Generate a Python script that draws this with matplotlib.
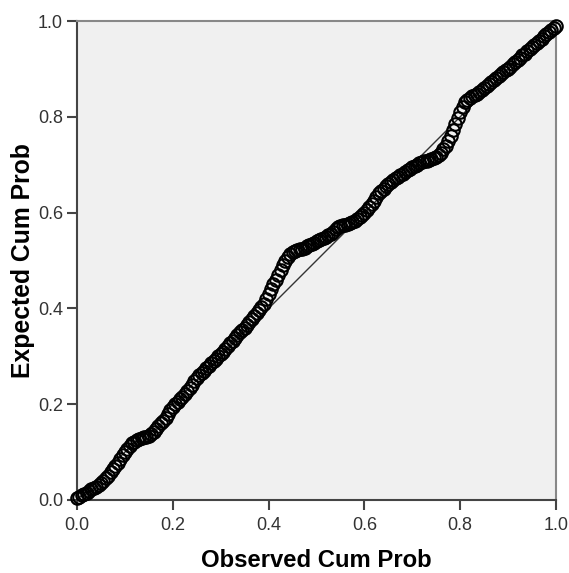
import matplotlib
matplotlib.use("Agg")
import matplotlib.pyplot as plt

# observed vs expected cumulative probability (P-P plot)
observed = [0.000, 0.005, 0.010, 0.015, 0.020, 0.025, 0.030, 0.035, 0.040, 0.045,
            0.050, 0.055, 0.060, 0.065, 0.070, 0.075, 0.080, 0.085, 0.090, 0.095,
            0.100, 0.105, 0.110, 0.115, 0.120, 0.125, 0.130, 0.135, 0.140, 0.145,
            0.150, 0.155, 0.160, 0.165, 0.170, 0.175, 0.180, 0.185, 0.190, 0.195,
            0.200, 0.205, 0.210, 0.215, 0.220, 0.225, 0.230, 0.235, 0.240, 0.245,
            0.250, 0.255, 0.260, 0.265, 0.270, 0.275, 0.280, 0.285, 0.290, 0.295,
            0.300, 0.305, 0.310, 0.315, 0.320, 0.325, 0.330, 0.335, 0.340, 0.345,
            0.350, 0.355, 0.360, 0.365, 0.370, 0.375, 0.380, 0.385, 0.390, 0.395,
            0.400, 0.405, 0.410, 0.415, 0.420, 0.425, 0.430, 0.435, 0.440, 0.445,
            0.450, 0.455, 0.460, 0.465, 0.470, 0.475, 0.480, 0.485, 0.490, 0.495,
            0.500, 0.505, 0.510, 0.515, 0.520, 0.525, 0.530, 0.535, 0.540, 0.545,
            0.550, 0.555, 0.560, 0.565, 0.570, 0.575, 0.580, 0.585, 0.590, 0.595,
            0.600, 0.605, 0.610, 0.615, 0.620, 0.625, 0.630, 0.635, 0.640, 0.645,
            0.650, 0.655, 0.660, 0.665, 0.670, 0.675, 0.680, 0.685, 0.690, 0.695,
            0.700, 0.705, 0.710, 0.715, 0.720, 0.725, 0.730, 0.735, 0.740, 0.745,
            0.750, 0.755, 0.760, 0.765, 0.770, 0.775, 0.780, 0.785, 0.790, 0.795,
            0.800, 0.805, 0.810, 0.815, 0.820, 0.825, 0.830, 0.835, 0.840, 0.845,
            0.850, 0.855, 0.860, 0.865, 0.870, 0.875, 0.880, 0.885, 0.890, 0.895,
            0.900, 0.905, 0.910, 0.915, 0.920, 0.925, 0.930, 0.935, 0.940, 0.945,
            0.950, 0.955, 0.960, 0.965, 0.970, 0.975, 0.980, 0.985, 0.990, 0.995,
            1.000]
expected = [0.004, 0.007, 0.010, 0.012, 0.015, 0.018, 0.022, 0.025, 0.028, 0.031,
            0.035, 0.040, 0.045, 0.051, 0.058, 0.065, 0.072, 0.078, 0.085, 0.093,
            0.100, 0.106, 0.112, 0.118, 0.122, 0.125, 0.128, 0.130, 0.131, 0.132,
            0.134, 0.137, 0.142, 0.148, 0.155, 0.160, 0.165, 0.172, 0.180, 0.188,
            0.195, 0.200, 0.205, 0.210, 0.215, 0.221, 0.228, 0.234, 0.240, 0.248,
            0.255, 0.260, 0.265, 0.270, 0.275, 0.280, 0.285, 0.290, 0.295, 0.300,
            0.305, 0.310, 0.315, 0.321, 0.327, 0.332, 0.338, 0.344, 0.350, 0.355,
            0.360, 0.366, 0.372, 0.378, 0.385, 0.391, 0.397, 0.403, 0.410, 0.420,
            0.430, 0.440, 0.450, 0.460, 0.470, 0.480, 0.490, 0.499, 0.508, 0.513,
            0.518, 0.520, 0.522, 0.524, 0.525, 0.527, 0.530, 0.532, 0.535, 0.537,
            0.540, 0.542, 0.545, 0.547, 0.550, 0.553, 0.556, 0.560, 0.565, 0.569,
            0.572, 0.574, 0.575, 0.577, 0.578, 0.580, 0.582, 0.586, 0.590, 0.595,
            0.600, 0.606, 0.612, 0.618, 0.625, 0.632, 0.640, 0.645, 0.650, 0.655,
            0.660, 0.664, 0.668, 0.672, 0.675, 0.678, 0.680, 0.684, 0.688, 0.692,
            0.695, 0.698, 0.700, 0.703, 0.705, 0.707, 0.708, 0.710, 0.712, 0.714,
            0.716, 0.720, 0.725, 0.732, 0.740, 0.750, 0.760, 0.772, 0.785, 0.798,
            0.810, 0.820, 0.830, 0.835, 0.840, 0.843, 0.845, 0.848, 0.852, 0.856,
            0.860, 0.864, 0.868, 0.873, 0.877, 0.881, 0.885, 0.889, 0.893, 0.897,
            0.900, 0.905, 0.910, 0.914, 0.918, 0.923, 0.928, 0.932, 0.937, 0.941,
            0.945, 0.950, 0.955, 0.959, 0.963, 0.968, 0.972, 0.977, 0.982, 0.986,
            0.990]
ticks = [0.0, 0.2, 0.4, 0.6, 0.8, 1.0]
tick_labels = ["0.0", "0.2", "0.4", "0.6", "0.8", "1.0"]

plt.rcParams['font.family'] = ['Liberation Sans', 'DejaVu Sans']

fig = plt.figure(figsize=(5.69, 5.73), dpi=100)
ax = fig.add_axes([77 / 569, 73 / 573, 479 / 569, 479 / 573])
ax.set_facecolor('#f0f0f0')

# reference diagonal
ax.plot([0, 1], [0, 1], color='#333333', lw=1.0, zorder=2)
ax.plot(observed, expected, linestyle='none', marker='o', markersize=9,
        markerfacecolor='none', markeredgecolor='black', markeredgewidth=1.5,
        zorder=3, clip_on=False)

ax.set_xlim(0, 1)
ax.set_ylim(0, 1)
ax.set_xticks(ticks)
ax.set_xticklabels(tick_labels)
ax.set_yticks(ticks)
ax.set_yticklabels(tick_labels)
ax.tick_params(axis='both', length=7, width=1.5, color='#444444',
               labelsize=13, labelcolor='#333333', pad=3)
ax.tick_params(axis='x', pad=5)

for side in ['left', 'bottom']:
    ax.spines[side].set_color('#444444')
    ax.spines[side].set_linewidth(1.5)
for side in ['top', 'right']:
    ax.spines[side].set_color('#888888')
    ax.spines[side].set_linewidth(1.5)

ax.set_xlabel('Observed Cum Prob', fontsize=17.2, fontweight='bold', labelpad=11)
ax.set_ylabel('Expected Cum Prob', fontsize=17.8, fontweight='bold', labelpad=2)

fig.savefig('out.png', dpi=100)
